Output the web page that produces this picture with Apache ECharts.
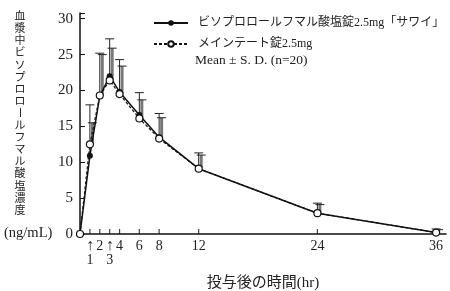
<!DOCTYPE html>
<html><head><meta charset="utf-8">
<script src="https://cdn.jsdelivr.net/npm/echarts@6/dist/echarts.min.js"></script>
<style>html,body{margin:0;padding:0;background:#fff}#c{width:450px;height:291px}</style>
</head><body><div id="c"></div>
<script>
var times = [0, 1, 2, 3, 4, 6, 8, 12, 24, 36];
var testMean = [0, 10.9, 19.2, 22.0, 19.8, 16.6, 13.5, 9.1, 2.9, 0.2];
var testSD   = [0, 7.1, 6.0, 5.2, 4.5, 3.1, 3.3, 2.2, 1.4, 0.5];
var refMean  = [0, 12.5, 19.3, 21.4, 19.5, 16.1, 13.3, 9.1, 2.9, 0.2];
var refSD    = [0, 3.0, 5.7, 4.5, 3.9, 2.6, 2.9, 1.9, 1.2, 0.4];
var tickTimes = [1, 2, 3, 4, 6, 8, 12, 24, 36];
var arrowTimes = [1, 3];
var yTicks = [0, 5, 10, 15, 20, 25, 30];
var testName = 'ビソプロロールフマル酸塩錠2.5mg「サワイ」';
var refName = 'メインテート錠2.5mg';
var yTitle = '血漿中ビソプロロールフマル酸塩濃度';
var yUnit = '(ng/mL)';
var xTitle = '投与後の時間(hr)';
var note = 'Mean ± S. D. (n=20)';

var SERIF = "'Liberation Serif','DejaVu Serif','Noto Sans CJK JP',serif";
var chart = echarts.init(document.getElementById('c'));

function pairs(m, s) {
  var out = [];
  for (var i = 0; i < times.length; i++) if (s[i] > 0) out.push([times[i], m[i], m[i] + s[i]]);
  return out;
}
function errRender(dx, color, width) {
  return function (params, api) {
    var p0 = api.coord([api.value(0), api.value(1)]);
    var p1 = api.coord([api.value(0), api.value(2)]);
    var x = p0[0] + dx;
    return {
      type: 'group',
      children: [
        {type: 'line', shape: {x1: x, y1: p0[1], x2: x, y2: p1[1]}, style: {stroke: color, lineWidth: width}},
        {type: 'line', shape: {x1: x - 4.5, y1: p1[1], x2: x + 4.5, y2: p1[1]}, style: {stroke: '#222', lineWidth: 1}}
      ]
    };
  };
}

var graphics = [];
var chars = yTitle.split('');
for (var i = 0; i < chars.length; i++) {
  var ch = chars[i];
  var g = {type: 'text', x: 20, y: 16 + i * 12.1, style: {text: ch, font: "11px 'Noto Sans CJK JP'", fill: '#222', align: 'center', verticalAlign: 'middle'}};
  if (ch === 'ー') { g.rotation = -Math.PI / 2; }
  graphics.push(g);
}
graphics.push({type: 'text', left: 4, top: 226, style: {text: yUnit, font: "14.5px " + SERIF, fill: '#222', letterSpacing: 1}});
graphics.push({type: 'text', left: 195, top: 54, style: {text: note, font: "13.5px " + SERIF, fill: '#222'}});

chart.setOption({
  animation: false,
  grid: {left: 80, right: 4, top: 13, bottom: 57, outerBoundsMode: 'none', containLabel: false},
  legend: {
    orient: 'vertical', left: 148, top: 12, itemGap: 9, itemWidth: 34, itemHeight: 7,
    textStyle: {fontFamily: SERIF, fontSize: 12, color: '#222', padding: [0, 0, 0, 5]},
    data: [testName, refName]
  },
  xAxis: {
    type: 'value', min: 0, max: 37, interval: 1,
    axisLine: {lineStyle: {color: '#111', width: 1.5}},
    axisTick: {show: false}, splitLine: {show: false},
    axisLabel: {
      margin: 5, color: '#222', fontFamily: SERIF, fontSize: 14,
      formatter: function (v) {
        if (arrowTimes.indexOf(v) >= 0) return '{a|↑}\n{b|' + v + '}';
        if (tickTimes.indexOf(v) >= 0) return '{c|' + v + '}';
        return '';
      },
      rich: {
        a: {fontFamily: SERIF, fontSize: 16, lineHeight: 14, color: '#222'},
        b: {fontFamily: SERIF, fontSize: 14, lineHeight: 14, color: '#222'},
        c: {fontFamily: SERIF, fontSize: 14, lineHeight: 14, color: '#222'}
      }
    },
    name: xTitle, nameLocation: 'middle', nameGap: 42,
    nameTextStyle: {fontFamily: SERIF, fontSize: 15, color: '#222'}
  },
  yAxis: {
    type: 'value', min: 0, max: 30.8, interval: 5,
    axisLine: {show: true, lineStyle: {color: '#111', width: 1.5}},
    axisTick: {show: true, inside: true, length: 5, lineStyle: {color: '#111'}},
    splitLine: {show: false},
    axisLabel: {
      margin: 7, color: '#222', fontFamily: SERIF, fontSize: 15,
      formatter: function (v) { return yTicks.indexOf(v) >= 0 ? String(v) : ''; }
    }
  },
  series: [
    {type: 'custom', name: 'errTest', renderItem: errRender(0, '#222', 1), data: pairs(testMean, testSD), z: 1, silent: true},
    {type: 'custom', name: 'errRef', renderItem: errRender(2.5, '#777', 3), data: pairs(refMean, refSD), z: 1, silent: true},
    {type: 'scatter', name: 'ticks', data: tickTimes.map(function (t) { return [t, 0]; }),
      symbol: 'rect', symbolSize: [1.2, 5], symbolOffset: [0, -2.5], itemStyle: {color: '#111'}, silent: true, z: 3},
    {type: 'line', name: testName, data: times.map(function (t, i) { return [t, testMean[i]]; }),
      symbol: 'circle', symbolSize: 6, showSymbol: true,
      lineStyle: {color: '#111', width: 1.5},
      itemStyle: {color: '#111', borderColor: '#111', borderWidth: 0}, z: 4},
    {type: 'line', name: refName, data: times.map(function (t, i) { return [t, refMean[i]]; }),
      symbol: 'circle', symbolSize: 7, showSymbol: true,
      lineStyle: {color: '#111', width: 1.2, type: [3, 2]},
      itemStyle: {color: '#fff', borderColor: '#111', borderWidth: 1.2}, z: 5}
  ],
  graphic: graphics
});
</script></body></html>
